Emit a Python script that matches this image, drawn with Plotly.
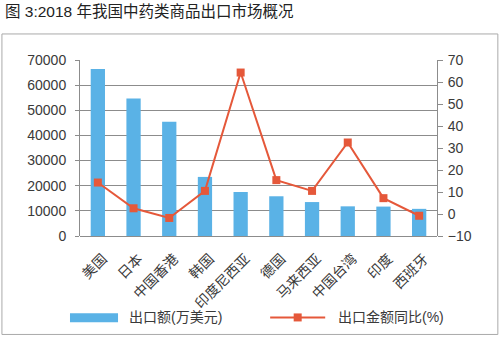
import plotly.graph_objects as go

categories = ["美国", "日本", "中国香港", "韩国", "印度尼西亚", "德国", "马来西亚", "中国台湾", "印度", "西班牙"]
export_value = [66400, 54700, 45400, 23500, 17500, 15800, 13500, 11800, 11700, 10800]
yoy_growth = [14.3, 2.6, -1.8, 10.5, 64.3, 15.4, 10.5, 32.5, 7.2, -0.8]
left_ticks = [0, 10000, 20000, 30000, 40000, 50000, 60000, 70000]
right_ticks = [-10, 0, 10, 20, 30, 40, 50, 60, 70]

title_text = "图 3:2018 年我国中药类商品出口市场概况"
bar_name = "出口额(万美元)"
line_name = "出口金额同比(%)"

BLUE = "#5AB2E6"
ORANGE = "#E5583A"
FONT = "Liberation Sans, Noto Sans CJK SC"
TXT = "#3A3A3A"
GRID = "#8C8C8C"

W, H = 500, 338
L, R, T, B = 80, 436.7, 60, 235.7
pw, ph = R - L, B - T


def px(x):
    return (x - L) / pw


def py(y):
    return (B - y) / ph


fig = go.Figure()
fig.add_trace(go.Bar(x=categories, y=export_value, name=bar_name,
                     marker=dict(color=BLUE, line=dict(width=0)), width=0.4,
                     showlegend=False))
fig.add_trace(go.Scatter(x=categories, y=yoy_growth, name=line_name, yaxis="y2",
                         mode="lines+markers",
                         line=dict(color=ORANGE, width=2),
                         marker=dict(symbol="square", size=8, color=ORANGE),
                         showlegend=False))

shapes = [
    dict(type="rect", xref="paper", yref="paper", x0=px(2), x1=px(497.5), y0=py(334), y1=py(34),
         line=dict(color="#AAAAAA", width=1), fillcolor="rgba(0,0,0,0)", layer="below"),
    dict(type="rect", xref="paper", yref="paper", x0=px(70), x1=px(118), y0=py(321.7), y1=py(312.7),
         line=dict(width=0), fillcolor=BLUE),
    dict(type="line", xref="paper", yref="paper", x0=px(270), x1=px(325), y0=py(317), y1=py(317),
         line=dict(color=ORANGE, width=2)),
    dict(type="rect", xref="paper", yref="paper", x0=px(293.5), x1=px(301.5), y0=py(321), y1=py(313),
         line=dict(width=0), fillcolor=ORANGE),
]

annotations = [
    dict(text=title_text, xref="paper", yref="paper", x=px(3), y=py(12), xanchor="left", yanchor="middle",
         showarrow=False, font=dict(family=FONT, size=15.5, color="#222222")),
    dict(text=bar_name, xref="paper", yref="paper", x=px(127), y=py(317), xanchor="left", yanchor="middle",
         showarrow=False, font=dict(family=FONT, size=14, color=TXT)),
    dict(text=line_name, xref="paper", yref="paper", x=px(336), y=py(317), xanchor="left", yanchor="middle",
         showarrow=False, font=dict(family=FONT, size=14, color=TXT)),
]

fig.update_layout(
    width=W, height=H,
    margin=dict(l=L, r=W - R, t=T, b=H - B, pad=0),
    paper_bgcolor="white", plot_bgcolor="white",
    font=dict(family=FONT, size=13, color=TXT),
    showlegend=False,
    xaxis=dict(type="category", range=[-0.5, 9.5], tickangle=-45, showgrid=False,
               showline=False, ticks="", ticklabelstandoff=11, ticklabelshift=5,
               tickfont=dict(family=FONT, size=14, color=TXT)),
    yaxis=dict(range=[0, 70000], tickvals=left_ticks, tickformat="d", showgrid=True,
               gridcolor=GRID, gridwidth=1,
               showline=True, linecolor=GRID, linewidth=1, ticks="outside", ticklen=4,
               tickcolor=GRID, zeroline=True, zerolinecolor=GRID, zerolinewidth=1,
               ticklabelstandoff=6,
               tickfont=dict(family=FONT, size=14, color=TXT)),
    yaxis2=dict(range=[-10, 70], tickvals=right_ticks, overlaying="y", side="right", showgrid=False,
                showline=True, linecolor=GRID, linewidth=1, ticks="outside", ticklen=5,
                tickcolor=GRID, zeroline=False, ticklabelstandoff=2,
                tickfont=dict(family=FONT, size=14, color=TXT)),
    shapes=shapes,
    annotations=annotations,
)

fig.write_html("out.html")
